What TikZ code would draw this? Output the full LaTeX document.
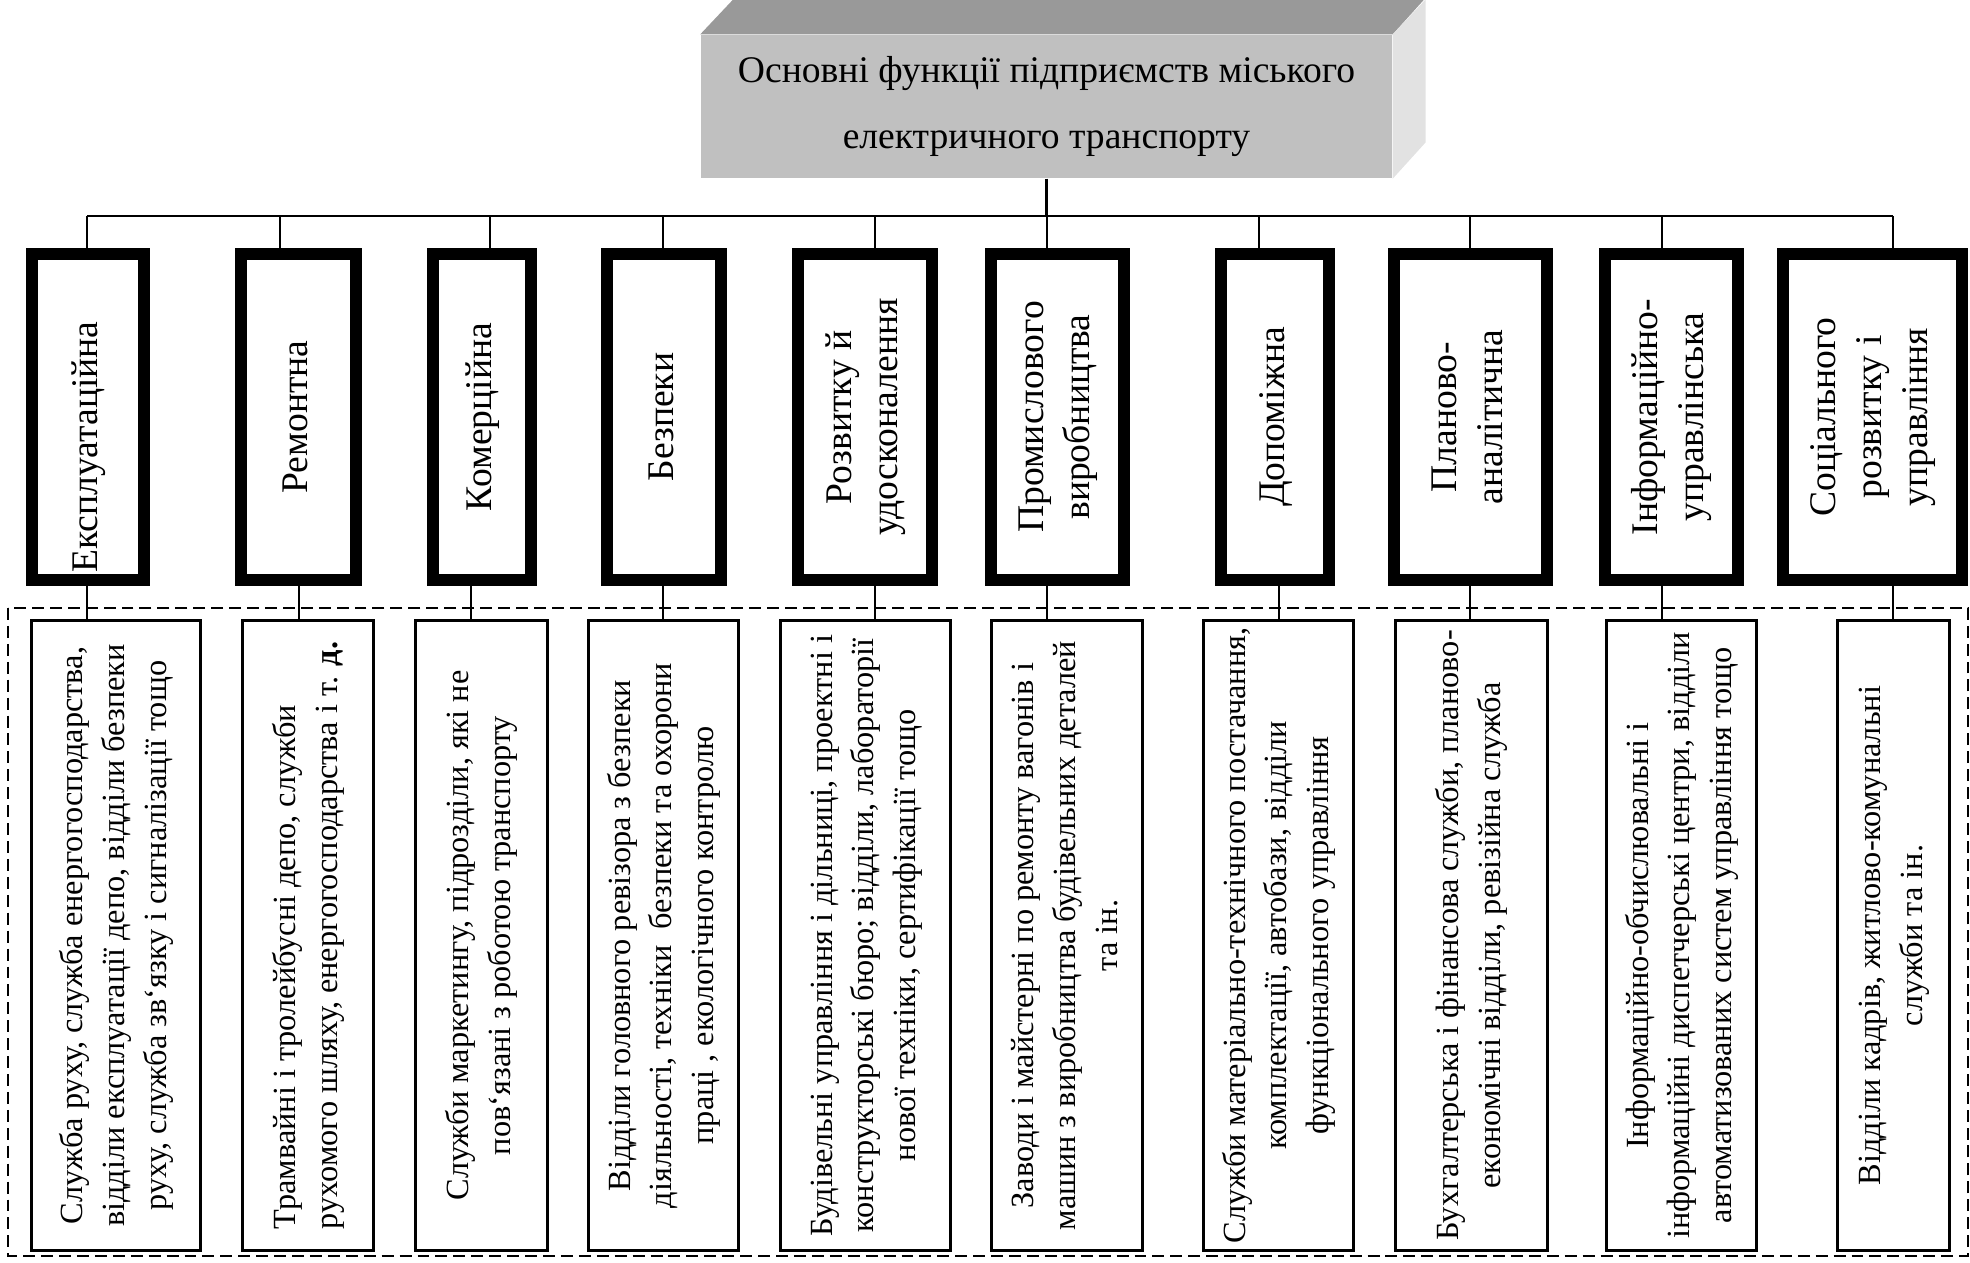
\documentclass[tikz,border=0pt]{standalone}
\usepackage{fontspec}
\setmainfont{Liberation Serif}
\usepackage{graphicx}

\definecolor{topgray}{HTML}{999999}
\definecolor{frontgray}{HTML}{C0C0C0}
\definecolor{sidegray}{HTML}{E2E2E2}

% rotated block of lines
\newcommand{\vlines}[2][c]{\rotatebox{90}{\begin{tabular}{@{}#1@{}}#2\end{tabular}}}

\begin{document}
\begin{tikzpicture}[x=1cm, y=-1cm,
    headbox/.style={fill=frontgray, minimum width=6.91cm, minimum height=1.43cm, inner sep=0pt,
        align=center, font=\fontsize{10.7}{18.7}\selectfont},
    catbox/.style={draw, line width=3.4pt, minimum height=3.26cm, inner sep=0pt,
        font=\fontsize{10.7}{13}\selectfont},
    unitbox/.style={draw, line width=0.8pt, minimum height=6.30cm, inner sep=0pt,
        font=\fontsize{9.2}{11.9}\selectfont},
    link/.style={line width=0.6pt},
    frame/.style={line width=0.6pt, dash pattern=on 3.4pt off 1.7pt}]
    \useasboundingbox (0,0) rectangle (19.70,12.62);

    % Header block
    \node[headbox] (head) at (10.465,1.065) {Основні функції підприємств міського\\електричного транспорту};
    \fill[topgray] (head.north west) -- ++(0.33,-0.35) -- ++(6.91,0) -- (head.north east) -- cycle;
    \fill[sidegray] (head.north east) -- ++(0.33,-0.35) -- ++(0,1.43) -- (head.south east) -- cycle;

    % Functions
    \node[catbox, minimum width=1.12cm] (c1) at (0.88,4.17) {\vlines{Експлуатаційна\kern0.6cm}};
    \node[catbox, minimum width=1.15cm] (c2) at (2.985,4.17) {\vlines{Ремонтна}};
    \node[catbox, minimum width=0.98cm] (c3) at (4.82,4.17) {\vlines{Комерційна}};
    \node[catbox, minimum width=1.14cm] (c4) at (6.64,4.17) {\vlines{Безпеки}};
    \node[catbox, minimum width=1.34cm] (c5) at (8.65,4.17) {\vlines{Розвитку й\\удосконалення}};
    \node[catbox, minimum width=1.33cm] (c6) at (10.575,4.17) {\vlines{Промислового\\виробництва}};
    \node[catbox, minimum width=1.08cm] (c7) at (12.75,4.17) {\vlines{Допоміжна}};
    \node[catbox, minimum width=1.53cm] (c8) at (14.705,4.17) {\vlines{Планово-\\аналітична}};
    \node[catbox, minimum width=1.33cm] (c9) at (16.715,4.17) {\vlines{Інформаційно-\\управлінська}};
    \node[catbox, minimum width=1.79cm] (c10) at (18.725,4.17) {\vlines{Соціального\\розвитку і\\управління}};

    % Units
    \node[unitbox, minimum width=1.69cm] (d1) at (1.16,9.355) {\vlines{Служба руху, служба енергогосподарства,\\відділи експлуатації депо, відділи безпеки\\руху, служба зв`язку і сигналізації тощо}};
    \node[unitbox, minimum width=1.31cm] (d2) at (3.08,9.355) {\vlines[l]{Трамвайні і тролейбусні депо, служби\\рухомого шляху, енергогосподарства і т. \textbf{д.}}};
    \node[unitbox, minimum width=1.32cm] (d3) at (4.815,9.355) {\vlines{Служби маркетингу, підрозділи, які не\\пов`язані з роботою транспорту}};
    \node[unitbox, minimum width=1.50cm] (d4) at (6.635,9.355) {\vlines{Відділи головного ревізора з безпеки\\діяльності, техніки\ \ безпеки та охорони\\праці , екологічного контролю}};
    \node[unitbox, minimum width=1.70cm] (d5) at (8.655,9.355) {\vlines{Будівельні управління і дільниці, проектні і\\конструкторські бюро; відділи, лабораторії\\нової техніки, сертифікації тощо}};
    \node[unitbox, minimum width=1.51cm] (d6) at (10.67,9.355) {\vlines{Заводи і майстерні по ремонту вагонів і\\машин з виробництва будівельних деталей\\та ін.}};
    \node[unitbox, minimum width=1.50cm] (d7) at (12.785,9.355) {\vlines{Служби матеріально-технічного постачання,\\комплектації, автобази, відділи\\функціонального управління}};
    \node[unitbox, minimum width=1.52cm] (d8) at (14.715,9.355) {\vlines{Бухгалтерська і фінансова служби, планово-\\економічні відділи, ревізійна служба}};
    \node[unitbox, minimum width=1.50cm] (d9) at (16.815,9.355) {\vlines{Інформаційно-обчислювальні і\\інформаційні диспетчерські центри, відділи\\автоматизованих систем управління тощо}};
    \node[unitbox, minimum width=1.12cm] (d10) at (18.935,9.355) {\vlines{Відділи кадрів, житлово-комунальні\\служби та ін.}};

    % Dashed frame round the units
    \draw[frame] (0.08,6.08) rectangle (19.68,12.56);

    % Connectors
    \coordinate (bus) at (10.47,2.16);
    \draw[link] (head.south) -- (head.south |- bus);
    \draw[link] (0.87,0 |- bus) -- (18.93,0 |- bus);
    \draw[link] (0.87,0 |- bus) -- (0.87,0 |- c1.north);
    \draw[link] (2.80,0 |- bus) -- (2.80,0 |- c2.north);
    \draw[link] (4.90,0 |- bus) -- (4.90,0 |- c3.north);
    \draw[link] (6.63,0 |- bus) -- (6.63,0 |- c4.north);
    \draw[link] (8.75,0 |- bus) -- (8.75,0 |- c5.north);
    \draw[link] (10.47,0 |- bus) -- (10.47,0 |- c6.north);
    \draw[link] (12.59,0 |- bus) -- (12.59,0 |- c7.north);
    \draw[link] (14.70,0 |- bus) -- (14.70,0 |- c8.north);
    \draw[link] (16.62,0 |- bus) -- (16.62,0 |- c9.north);
    \draw[link] (18.93,0 |- bus) -- (18.93,0 |- c10.north);

    \draw[link] (0.87,0 |- c1.south) -- (0.87,0 |- d1.north);
    \draw[link] (2.99,0 |- c2.south) -- (2.99,0 |- d2.north);
    \draw[link] (4.71,0 |- c3.south) -- (4.71,0 |- d3.north);
    \draw[link] (6.63,0 |- c4.south) -- (6.63,0 |- d4.north);
    \draw[link] (8.75,0 |- c5.south) -- (8.75,0 |- d5.north);
    \draw[link] (10.47,0 |- c6.south) -- (10.47,0 |- d6.north);
    \draw[link] (12.79,0 |- c7.south) -- (12.79,0 |- d7.north);
    \draw[link] (14.70,0 |- c8.south) -- (14.70,0 |- d8.north);
    \draw[link] (16.62,0 |- c9.south) -- (16.62,0 |- d9.north);
    \draw[link] (18.93,0 |- c10.south) -- (18.93,0 |- d10.north);
\end{tikzpicture}
\end{document}
